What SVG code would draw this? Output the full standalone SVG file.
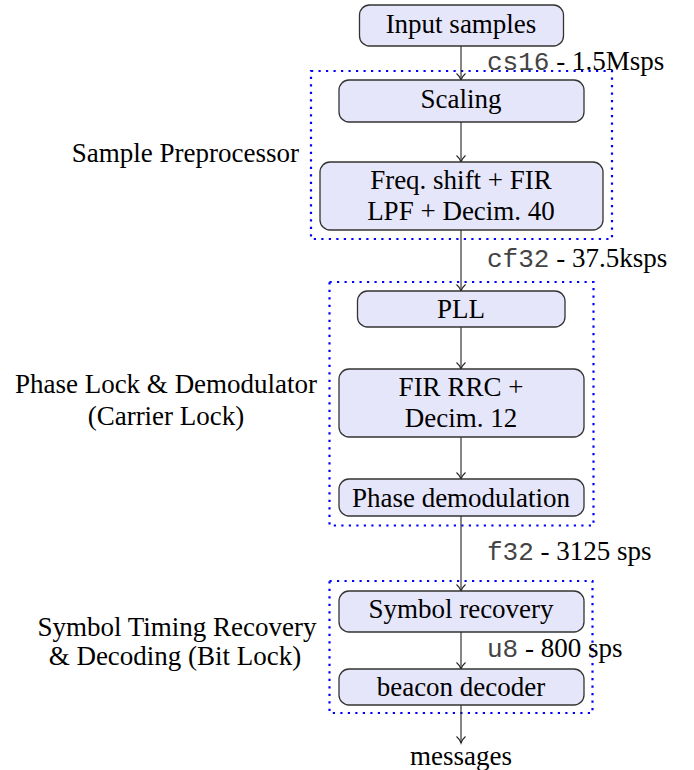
<svg xmlns="http://www.w3.org/2000/svg" width="694" height="770" viewBox="0 0 694 770">
  <style>
    .blk rect { fill: #e6e6fa; stroke: #333; stroke-width: 1.3; }
    .t { font-family: "Liberation Serif", "Times New Roman", serif; font-size: 27px; fill: #000; }
    .c { text-anchor: middle; }
    .r { text-anchor: end; }
    .mono { font-family: "Liberation Mono", "Courier New", monospace; font-size: 26px; fill: #444; }
    .grp { fill: none; stroke: #0000ff; stroke-width: 2.2; stroke-dasharray: 2.2 5.3; }
    .wire { stroke: #222; stroke-width: 1.1; fill: none; marker-end: url(#tip); }
  </style>
  <defs>
    <marker id="tip" markerWidth="12" markerHeight="12" refX="10" refY="6" orient="auto" markerUnits="userSpaceOnUse">
      <path d="M3.5,1.5 Q6.5,5 10,6 Q6.5,7 3.5,10.5" fill="none" stroke="#222" stroke-width="1.1"/>
    </marker>
  </defs>

  <rect width="694" height="770" fill="#fff"/>

  <!-- stage groupings -->
  <g id="groups">
    <rect class="grp" x="311" y="71" width="301" height="168"/>
    <rect class="grp" x="329.5" y="282" width="264" height="243.5"/>
    <rect class="grp" x="329.5" y="581" width="263" height="132"/>
  </g>

  <!-- stage labels -->
  <g id="stage-labels" class="t">
    <text class="r" x="299" y="162">Sample Preprocessor</text>
    <text class="c" x="166" y="393">Phase Lock &amp; Demodulator</text>
    <text class="c" x="166" y="425">(Carrier Lock)</text>
    <text class="c" x="177" y="636">Symbol Timing Recovery</text>
    <text class="c" x="175" y="665">&amp; Decoding (Bit Lock)</text>
  </g>

  <!-- connectors -->
  <g id="connectors">
    <line class="wire" x1="461" y1="46" x2="461" y2="80"/>
    <line class="wire" x1="461" y1="122" x2="461" y2="162"/>
    <line class="wire" x1="461" y1="230" x2="461" y2="291"/>
    <line class="wire" x1="461" y1="327" x2="461" y2="369"/>
    <line class="wire" x1="461" y1="437" x2="461" y2="479"/>
    <line class="wire" x1="461" y1="516" x2="461" y2="591"/>
    <line class="wire" x1="461" y1="632" x2="461" y2="669"/>
    <line class="wire" x1="461" y1="705" x2="461" y2="743"/>
  </g>

  <!-- rate labels -->
  <g id="rate-labels" class="t">
    <text x="487" y="70"><tspan class="mono">cs16</tspan> - 1.5Msps</text>
    <text x="487" y="267"><tspan class="mono">cf32</tspan> - 37.5ksps</text>
    <text x="487" y="560"><tspan class="mono">f32</tspan> - 3125 sps</text>
    <text x="487" y="657"><tspan class="mono">u8</tspan> - 800 sps</text>
  </g>

  <!-- processing blocks -->
  <g id="input" class="blk">
    <rect x="359.5" y="5" width="204" height="41" rx="10"/>
    <text class="t c" x="461" y="33">Input samples</text>
  </g>
  <g id="scaling" class="blk">
    <rect x="339" y="80" width="245" height="42" rx="10"/>
    <text class="t c" x="461" y="108">Scaling</text>
  </g>
  <g id="freq-shift" class="blk">
    <rect x="320" y="162" width="283" height="68" rx="10"/>
    <text class="t c" x="461" y="189">Freq. shift + FIR</text>
    <text class="t c" x="461" y="220">LPF + Decim. 40</text>
  </g>
  <g id="pll" class="blk">
    <rect x="357.5" y="291" width="207.5" height="36" rx="10"/>
    <text class="t c" x="461" y="318">PLL</text>
  </g>
  <g id="fir-rrc" class="blk">
    <rect x="339" y="369" width="245" height="68" rx="10"/>
    <text class="t c" x="461" y="396">FIR RRC +</text>
    <text class="t c" x="461" y="427">Decim. 12</text>
  </g>
  <g id="phase-demod" class="blk">
    <rect x="339" y="479" width="245" height="37" rx="10"/>
    <text class="t c" x="461" y="507">Phase demodulation</text>
  </g>
  <g id="symbol-recovery" class="blk">
    <rect x="339" y="591" width="245" height="41" rx="10"/>
    <text class="t c" x="461" y="618">Symbol recovery</text>
  </g>
  <g id="beacon-decoder" class="blk">
    <rect x="339" y="669" width="245" height="36" rx="10"/>
    <text class="t c" x="461" y="696">beacon decoder</text>
  </g>
  <g id="messages">
    <text class="t c" x="461" y="765">messages</text>
  </g>
</svg>
